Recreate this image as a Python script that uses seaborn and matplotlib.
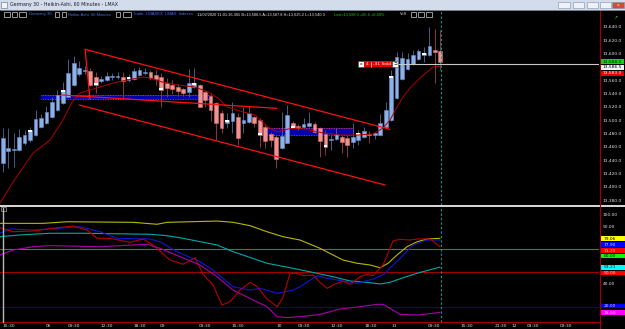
import numpy as np
import pandas as pd
import matplotlib
matplotlib.use("Agg")
import matplotlib.pyplot as plt
import seaborn as sns
from matplotlib.patches import Rectangle
from matplotlib.lines import Line2D

# ------------------------------------------------------------------ data
# Heikin-Ashi candles (60 min), candle index 0..80
opens = [13436, 13453.5, 13455.5, 13455, 13465.5, 13470, 13477.5, 13489.5, 13495.5, 13504.5,
         13515, 13525.5, 13535, 13552.5, 13568.5, 13573, 13574, 13564.5, 13558.5, 13560,
         13564, 13564, 13564.5, 13560, 13561.5, 13567.5, 13570.5, 13572.5, 13567.5, 13565,
         13556, 13552.5, 13549.5, 13546.5, 13542.5, 13549, 13552.5, 13542.5, 13536, 13526,
         13511, 13496, 13499, 13505, 13496, 13497.5, 13504.5, 13500, 13490, 13479,
         13474, 13457.5, 13466, 13496, 13491, 13489, 13491, 13494, 13487.5, 13479,
         13470.5, 13471, 13475, 13472.5, 13467.5, 13470, 13474, 13479, 13477.5, 13477.5,
         13490, 13500, 13532.5, 13561, 13576, 13584, 13591, 13597.5, 13597.5, 13605, 13603.5]
highs = [13487.5, 13488, 13480.5, 13486.5, 13485, 13489.5, 13515, 13509, 13521, 13534.5,
         13545, 13557, 13591, 13596, 13589, 13581, 13578, 13572, 13566, 13572,
         13570.5, 13572, 13572, 13569, 13578, 13579.5, 13578, 13575, 13575, 13570.5,
         13563, 13560, 13554, 13548, 13576.5, 13577.5, 13554, 13545, 13540.5, 13527.5,
         13515, 13510.5, 13527.5, 13510.5, 13520, 13521, 13506, 13502.5, 13492.5, 13482.5,
         13477.5, 13512.5, 13522.5, 13498.5, 13494, 13502.5, 13512.5, 13497, 13490, 13485,
         13477.5, 13487.5, 13477.5, 13477.5, 13495, 13485, 13490, 13484, 13482.5, 13509,
         13527.5, 13575, 13602.5, 13602.5, 13600, 13605, 13606, 13610, 13640, 13636, 13635]
lows = [13422.5, 13428, 13429.5, 13453.5, 13462.5, 13467, 13476, 13488, 13494, 13503,
        13513.5, 13524, 13534.5, 13551, 13566, 13569, 13551, 13540.5, 13555.5, 13558.5,
        13560, 13561.5, 13531.5, 13557, 13560, 13566, 13567.5, 13560, 13552.5, 13520,
        13535, 13539, 13536, 13536, 13535, 13548, 13519.5, 13520, 13499, 13470,
        13481, 13487.5, 13480, 13462.5, 13480, 13496, 13490, 13459, 13457.5, 13459,
        13428.5, 13456.5, 13465.5, 13486.5, 13485, 13488, 13489.5, 13480.5, 13444, 13447.5,
        13455, 13470, 13450, 13445, 13457.5, 13462.5, 13473, 13466, 13471, 13476,
        13489.5, 13498.5, 13531.5, 13560, 13575, 13582.5, 13590, 13587.5, 13596, 13556, 13575]
closes = [13472.5, 13458, 13457, 13474.5, 13477.5, 13485, 13501.5, 13503, 13512, 13527,
          13537.5, 13545, 13571, 13585.5, 13578.5, 13575, 13552.5, 13552.5, 13561.5, 13566,
          13565.5, 13566, 13558.5, 13564, 13573.5, 13575, 13572, 13562.5, 13561, 13545,
          13547.5, 13546.5, 13543.5, 13540, 13555.5, 13556, 13520, 13530, 13515, 13496,
          13487.5, 13500, 13510.5, 13472.5, 13500, 13510.5, 13496, 13477.5, 13469, 13470,
          13441, 13476, 13507.5, 13488, 13487.5, 13494, 13496, 13482.5, 13469, 13460,
          13472, 13479, 13467.5, 13462.5, 13474, 13481, 13484, 13477, 13480, 13495,
          13515, 13566, 13594, 13592.5, 13591, 13597.5, 13603.5, 13600.5, 13611, 13602.5, 13587.5]
marker_candles = [5, 11, 17, 23, 29, 35, 41, 47, 53, 59, 65, 71, 77]

# moving average (knots: candle index, price)
ma_x = [-0.49, 2.25, 5.54, 8.65, 11.02, 12.67, 14.13, 15.96, 17.79, 20.17, 22.72, 25.65, 26.93,
        29.12, 32.05, 35.16, 37.53, 39.36, 41.01, 43.38, 46.12, 48.5, 50.15, 52.16, 54.35,
        58.56, 61.66, 64.77, 67.7, 69.53, 70.8, 72.08, 73.18, 74.46, 76.29, 77.57, 78.67, 79.95]
ma_p = [13375.5, 13411.5, 13450.5, 13470, 13500, 13527, 13540.5, 13545, 13549.5, 13555.5, 13560,
        13564.5, 13563, 13557, 13552.5, 13549.5, 13542, 13533, 13519.5, 13513.5, 13507.5,
        13489.5, 13482, 13486.5, 13488, 13480.5, 13477.5, 13477.5, 13479, 13488, 13500,
        13519.5, 13534.5, 13548, 13563, 13572, 13579.5, 13581]

# drawn trend lines: (x0, p0, x1, p1)
trend_lines = [(15.05, 13606, 70.8, 13486),
               (15.05, 13606, 15.96, 13531),
               (14.0, 13522.5, 69.9, 13402.5),
               (10.84, 13537.5, 50.15, 13517.5)]
# blue zones: (x0, x1, low, high)
zones = [(7.0, 37.9, 13532, 13538), (48.3, 64.0, 13477, 13487.5)]

current_price = 13584.6
price_ticks = list(range(13380, 13660, 20))

# indicator panel
ind_series = {
    "yellow": ([-0.49, 7.37, 11.75, 23.82, 28.21, 30.04, 39.18, 42.1, 45.21, 48.32, 51.24, 54.35,
                58.0, 60.38, 62.21, 64.77, 67.15, 68.98, 70.44, 72.08, 73.91, 75.74, 77.57, 79.95],
               [92.3, 92.3, 93.7, 93.2, 91.5, 93.2, 94.3, 93.2, 90.3, 85, 80.7, 77.8,
                70.6, 64.8, 60.4, 57.6, 56.1, 53.7, 57.6, 64.8, 72, 76.3, 78.7, 79.3]),
    "cyan": ([-0.49, 3.16, 8.65, 14.68, 26.93, 30.04, 32.96, 39.18, 42.1, 48.32, 53.07, 57.46,
              60.38, 63.49, 66.6, 68.98, 70.8, 73.18, 75.74, 79.95],
             [80.7, 82.2, 83.7, 83.7, 82.8, 81.6, 79.3, 73.5, 67.7, 57.6, 53.2, 48.9,
              45.9, 42.2, 41, 39.6, 41, 45, 48.9, 54.3]),
    "blue": ([-0.49, 1.33, 5.54, 11.75, 14.13, 17.79, 20.9, 26.93, 28.76, 31.87, 36.07, 38.45,
              42.1, 45.21, 47.04, 50.15, 53.07, 54.35, 57.46, 59.29, 62.21, 64.77, 67.7, 69.53,
              72.63, 75.01, 77.57, 79.95],
             [83.7, 87.4, 86.5, 88.5, 89.4, 85, 79.3, 78.7, 76.3, 67.7, 59, 51.7,
              37.2, 34.3, 35.8, 31.5, 34.3, 37.2, 46.8, 44.5, 42.2, 40.2, 43.9, 47.4,
              61.9, 73.5, 77.8, 77.8]),
    "red": ([-0.49, 1.88, 5.54, 9.2, 12.85, 15.41, 17.24, 19.62, 23.27, 25.65, 27.48, 30.59,
             32.96, 35.16, 36.62, 38.45, 40.09, 41.55, 43.38, 45.21, 46.49, 48.32, 50.15, 51.24,
             52.52, 53.8, 54.9, 56.73, 58.0, 59.29, 60.38, 62.21, 63.49, 65.32, 66.6, 67.7,
             69.53, 71.35, 72.63, 74.46, 75.74, 78.12, 79.95],
            [88.5, 85, 85.7, 88, 90, 86.5, 79.3, 79.3, 75.8, 78.7, 73.5, 60.4,
             56.7, 62.4, 48, 38.7, 21.3, 24.2, 34.3, 41, 37.2, 26.5, 19.8, 27.7,
             48.9, 48.9, 46.8, 47.4, 41, 35.8, 38.7, 42.2, 39.3, 45.9, 48, 46.8,
             56.1, 77, 78.4, 77.8, 78.7, 78.7, 72]),
    "magenta": ([-0.49, 1.88, 5.54, 8.65, 17.79, 23.82, 26.38, 28.76, 32.41, 36.07, 39.18, 42.1,
                 45.76, 48.32, 50.15, 51.97, 56.18, 58.0, 61.66, 65.32, 68.43, 69.53, 70.8,
                 72.63, 75.74, 78.67, 79.95],
                [64.8, 69.1, 72, 72.9, 72, 73.5, 74.1, 70.6, 63.3, 56.1, 45.9, 34.3,
                 25.7, 19.8, 11.1, 10.3, 12, 13.2, 17.8, 19.8, 21.9, 21.9, 18.4,
                 13.2, 12.6, 14.1, 15]),
}
ind_colors = {"yellow": "#b8b800", "cyan": "#00a8a8", "blue": "#1414d8",
              "red": "#b80000", "magenta": "#a800a8"}
level_values = [70, 50, 20]
level_colors = ["#00a800", "#a00000", "#0000a8"]
ind_ticks = [100, 90, 80, 40]

time_pos = [1.15, 8.46, 13.0, 19.1, 25.1, 29.3, 37.0, 43.0, 50.5, 55.1, 61.1, 67.2, 71.5,
            78.8, 84.9, 91.1, 93.5, 97.0, 103.0]
time_labels = ["15:30", "06", "09:30", "12:30", "18:30", "09", "09:30", "15:30", "10", "09:30",
               "12:30", "18:30", "11", "09:30", "15:30", "21:30", "12", "03:30", "09:30"]

# ------------------------------------------------------------------ style
sns.set_theme(style="dark")
plt.rcParams["font.family"] = ["DejaVu Sans"]
W, H = 625, 329
fig = plt.figure(figsize=(W / 100, H / 100), dpi=100, facecolor="black")
INFO_FONT = ["Liberation Sans", "DejaVu Sans"]


def fx(x):
    return x / W


def fy(y):
    return 1 - y / H


def prect(x0, y0, x1, y1, **kw):
    fig.patches.append(Rectangle((fx(x0), fy(y1)), (x1 - x0) / W, (y1 - y0) / H,
                                 transform=fig.transFigure, **kw))


def ptext(x, y, s, **kw):
    kw.setdefault("va", "center")
    kw.setdefault("ha", "left")
    fig.text(fx(x), fy(y), s, **kw)


XL = (-0.494, 109.0)

# ------------------------------------------------------------------ main price panel
ax = fig.add_axes([0, fy(205), 599 / W, 195 / H])
ax.set_facecolor("black")
ax.set_xlim(*XL)
ax.set_ylim(13372.5, 13665)

n = len(opens)
xs = np.arange(n)
o = np.array(opens); c = np.array(closes); hi = np.array(highs); lo = np.array(lows)
up = c >= o
wick_col = np.where(up, "#4a5c80", "#8a3a3a")
ax.vlines(xs, lo, hi, colors=wick_col, linewidth=0.7, zorder=2)
body_h = np.maximum(np.abs(c - o), 1.2)
body_b = np.minimum(o, c)
ax.bar(xs[up], body_h[up], bottom=body_b[up], width=0.68, color="#8db0e6",
       edgecolor="#6a8ccc", linewidth=0.4, zorder=3)
ax.bar(xs[~up], body_h[~up], bottom=body_b[~up], width=0.68, color="#f39090",
       edgecolor="#d87070", linewidth=0.4, zorder=3)
# white session markers at close end
for i in marker_candles:
    if up[i]:
        ax.bar(i, 3, bottom=c[i] - 3, width=0.68, color="white", linewidth=0, zorder=4)
    else:
        ax.bar(i, 3, bottom=c[i], width=0.68, color="white", linewidth=0, zorder=4)

# zones
for x0, x1, zl, zh in zones:
    ax.fill_between([x0, x1], zl, zh, color="#0000b0", linewidth=0, zorder=1.5)
    ax.hlines([zl, zh], x0, x1, colors="#ff4040", linestyles=(0, (1, 1)), linewidth=0.6, zorder=1.6)

# moving average
sns.lineplot(x=ma_x, y=ma_p, ax=ax, color="#b00000", linewidth=0.7, estimator=None, zorder=5)
# trend lines
for x0, p0, x1, p1 in trend_lines:
    ax.plot([x0, x1], [p0, p1], color="#ff1010", linewidth=0.9, zorder=6)

# current price line
ax.hlines(current_price, 72, XL[1], colors="#c8c8c8", linewidth=0.8, zorder=6)
ax.axvline(80.04, color="#00a0a0", linestyle=(0, (2, 2)), linewidth=0.8, zorder=7)

ax.set_xticks([])
ax.yaxis.tick_right()
ax.set_yticks(price_ticks)
ax.set_yticklabels([f"{v:,.1f}" for v in price_ticks])
ax.tick_params(axis="y", colors="#a00000", labelcolor="#e0e0e0", labelsize=3.2,
               length=1.5, width=0.5, pad=1.2, right=True, left=False)
ax.set_xlabel(""); ax.set_ylabel("")
for s in ax.spines.values():
    s.set_visible(False)
ax.grid(False)

# ------------------------------------------------------------------ indicator panel
ax2 = fig.add_axes([0, fy(322), 599 / W, 116 / H])
ax2.set_facecolor("black")
ax2.set_xlim(*XL)
ax2.set_ylim(100 - (322 - 214.5) / 1.15, 100 - (206 - 214.5) / 1.15)
for v, col in zip(level_values, level_colors):
    ax2.axhline(v, color=col, linewidth=0.8, zorder=1)
rows = []
for name, (sx, sv) in ind_series.items():
    for a, b in zip(sx, sv):
        rows.append({"x": a, "v": b, "series": name})
df = pd.DataFrame(rows)
sns.lineplot(data=df, x="x", y="v", hue="series", palette=ind_colors, ax=ax2,
             estimator=None, linewidth=0.8, legend=False, zorder=3)
ax2.axvline(80.04, color="#00a0a0", linestyle=(0, (2, 2)), linewidth=0.8, zorder=7)
ax2.yaxis.tick_right()
ax2.set_yticks(ind_ticks)
ax2.set_yticklabels([f"{v:.2f}" for v in ind_ticks])
ax2.set_xticks(time_pos)
ax2.set_xticklabels(time_labels)
ax2.tick_params(axis="y", colors="#a00000", labelcolor="#e0e0e0", labelsize=3.2,
                length=1.5, width=0.5, pad=1.2, right=True, left=False)
ax2.tick_params(axis="x", colors="#a00000", labelcolor="#e0e0e0", labelsize=3.2,
                length=0, pad=1.2, bottom=True)
ax2.set_xlabel(""); ax2.set_ylabel("")
for k, s in ax2.spines.items():
    s.set_visible(k == "bottom")
ax2.spines["bottom"].set_color("#a00000")
ax2.spines["bottom"].set_linewidth(0.9)
ax2.grid(False)

# ------------------------------------------------------------------ frame decorations
fig.lines.append(Line2D([fx(0), fx(625)], [fy(205.5), fy(205.5)], transform=fig.transFigure,
                        color="white", linewidth=1.2))
fig.lines.append(Line2D([fx(599.5), fx(599.5)], [fy(9.5), fy(329)], transform=fig.transFigure,
                        color="#a00000", linewidth=0.8))
fig.lines.append(Line2D([fx(2.7), fx(2.7)], [fy(208), fy(322)], transform=fig.transFigure,
                        color="#b8b8b8", linewidth=1.0))
prect(1, 206.5, 6, 211, facecolor="black", edgecolor="#a0a0a0", linewidth=0.5)

# title bar
prect(0, 0, 625, 9.5, facecolor="#d3dcea", edgecolor="none")
fig.lines.append(Line2D([0, 1], [fy(9.5), fy(9.5)], transform=fig.transFigure,
                        color="#8a96a8", linewidth=0.6))
prect(1.5, 2, 6.5, 7.5, facecolor="#f4f4f4", edgecolor="#5a6a80", linewidth=0.4)
ptext(10, 4.8, "Germany 30 - Heikin-Ashi, 60 Minutes - LMAX", color="#1a1a2a", fontsize=3.4)
for bx0, bx1, col in [(558, 570, "#eef2f8"), (573, 584, "#eef2f8"), (587, 598, "#eef2f8"),
                      (600, 611, "#eef2f8"), (612, 624, "#d24a38")]:
    prect(bx0, 1.8, bx1, 8, facecolor=col, edgecolor="#8090a8", linewidth=0.4)
ptext(618, 4.9, "x", color="white", fontsize=3.2, ha="center")

# info line
for bx0, bx1 in [(4, 10), (12, 17), (19, 26), (55, 59), (62, 66), (116, 120), (123, 131),
                 (411, 416), (418, 424), (426, 432)]:
    prect(bx0, 12, bx1, 16.5, facecolor="black", edgecolor="#d0d0d0", linewidth=0.5)
ptext(29, 14.3, "Germany 30", color="#4a6fe0", fontsize=3.0, family=INFO_FONT)
ptext(68, 14.3, "Heikin-Ashi, 60 Minutes", color="#4a6fe0", fontsize=3.0, family=INFO_FONT)
ptext(133, 14.3, "Trade  LMAXEX  LMAX  Indexes", color="#4a6fe0", fontsize=3.0, family=INFO_FONT)
ptext(197, 14.3, "11/02/2020 11:01:36.365 B=13,586.5 A=13,587.8 H=13,625.2 L=13,540.3",
      color="#e8e8e8", fontsize=2.75, family=INFO_FONT)
ptext(334, 14.3, "Last=13,588.0 +65.6 +0.49%", color="#20c820", fontsize=2.75, family=INFO_FONT)
ptext(400, 14.3, "V=0", color="#e8e8e8", fontsize=2.75, family=INFO_FONT)
# small icon top right
ptext(615, 17, "↗", color="#30c030", fontsize=3.5, ha="center")

# order label
prect(358, 61.5, 364, 67, facecolor="white", edgecolor="#404040", linewidth=0.4)
ptext(361, 64.3, "x", color="black", fontsize=3.2, ha="center")
prect(364, 61.5, 392, 67, facecolor="#e80000", edgecolor="none")
fig.lines.append(Line2D([fx(371), fx(371)], [fy(61.5), fy(67)], transform=fig.transFigure,
                        color="white", linewidth=0.5))
ptext(367.5, 64.3, "4", color="white", fontsize=3.2, ha="center")
ptext(381.5, 64.3, "-31 Sold", color="white", fontsize=3.2, ha="center")
prect(392, 61.5, 398, 67, facecolor="white", edgecolor="#404040", linewidth=0.4)
ptext(395, 64.3, "⊐", color="black", fontsize=3.2, ha="center")

# price tags
for yc, fc, tc, s in [(61.5, "#00e000", "black", "13,588.0"),
                      (67.3, "#f4f4f4", "black", "13,586.5"),
                      (73.3, "#e80000", "white", "13,583.0")]:
    prect(600, yc - 2.4, 624, yc + 2.4, facecolor=fc, edgecolor="none")
    ptext(612, yc + 0.2, s, color=tc, fontsize=3.2, ha="center")

# indicator tags
for yc, fc, tc, s in [(238.7, "#ffff00", "black", "79.06"),
                      (244.3, "#0000ff", "#d0d0ff", "77.90"),
                      (250.3, "#ff0000", "#ffd0d0", "71.79"),
                      (256.0, "#00ff00", "black", "60.00"),
                      (267.3, "#00ffff", "black", "53.21"),
                      (273.0, "#ff0000", "#ffd0d0", "50.00"),
                      (306.0, "#0000ff", "#d0d0ff", "20.00"),
                      (312.3, "#ff00ff", "#ffe0ff", "15.50")]:
    prect(600, yc - 2.4, 625, yc + 2.4, facecolor=fc, edgecolor="none")
    ptext(604, yc + 0.2, s, color=tc, fontsize=3.2, ha="left")

fig.savefig("out.png", dpi=100, facecolor="black")
